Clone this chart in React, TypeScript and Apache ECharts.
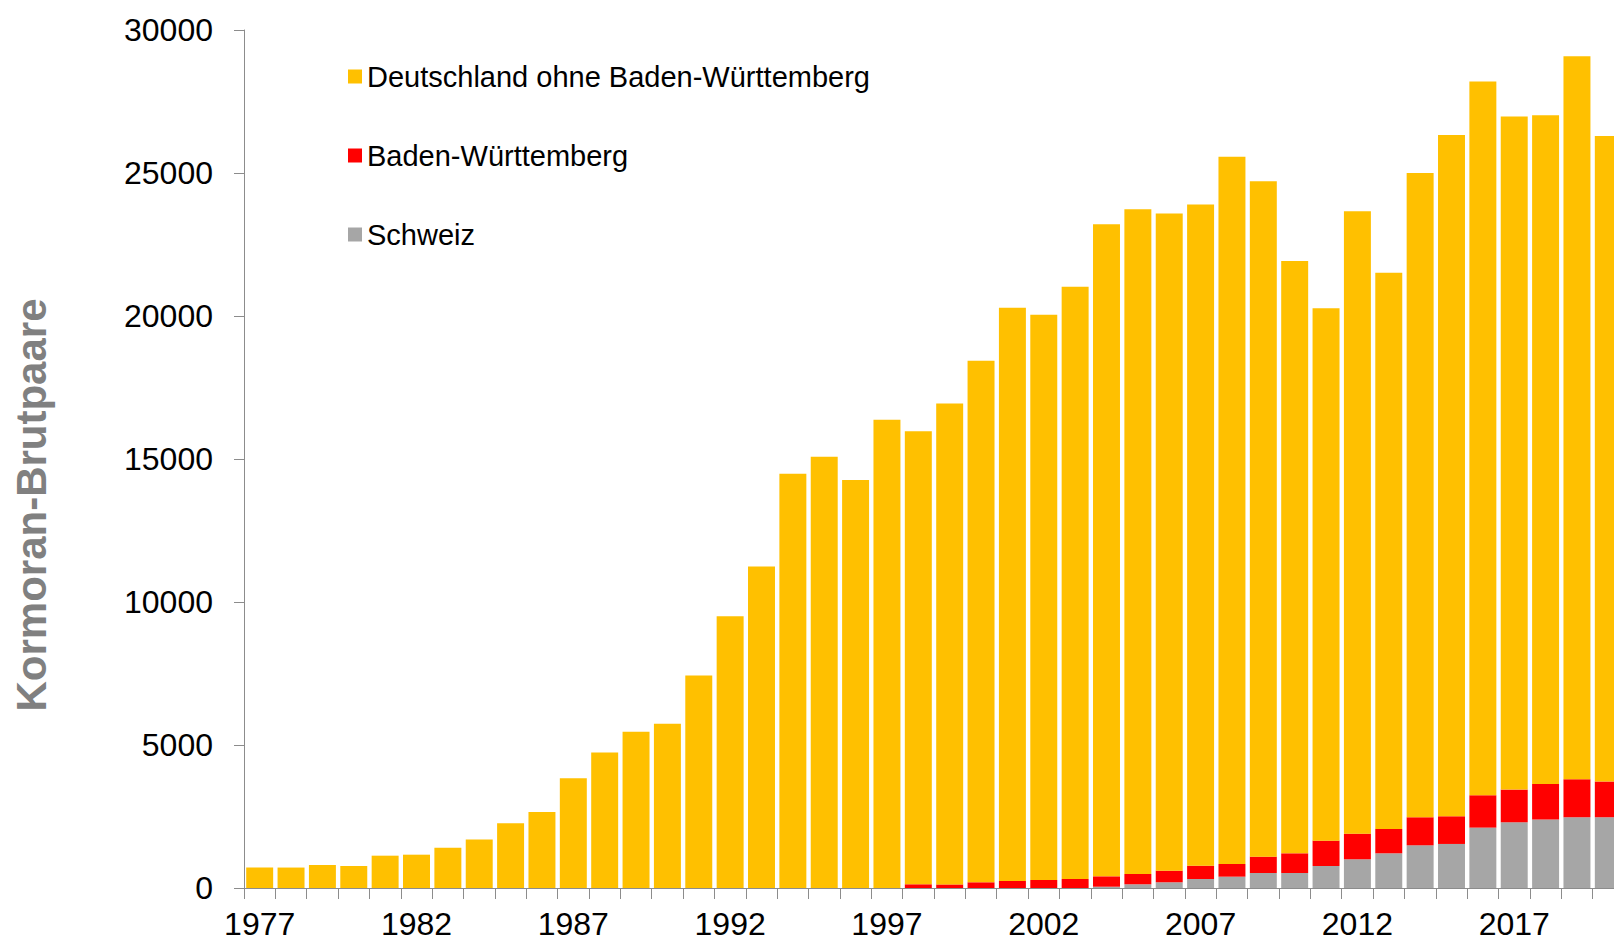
import React, { useEffect, useRef } from "react";
import * as echarts from "echarts";

const years = [
  "1977","1978","1979","1980","1981","1982","1983","1984","1985","1986",
  "1987","1988","1989","1990","1991","1992","1993","1994","1995","1996",
  "1997","1998","1999","2000","2001","2002","2003","2004","2005","2006",
  "2007","2008","2009","2010","2011","2012","2013","2014","2015","2016",
  "2017","2018","2019","2020",
];

const deutschlandOhneBW = [
  720, 715, 805, 770, 1130, 1165, 1410, 1700, 2260, 2660,
  3840, 4740, 5460, 5740, 7430, 9500, 11240, 14480, 15080, 14270,
  16370, 15840, 16815, 18235, 20045, 19765, 20710, 22800, 23240, 22975,
  23115, 24725, 23615, 20710, 18615, 21760, 19450, 22530, 23820, 24955,
  23535, 23380, 25275, 22575,
];

const badenWuerttemberg = [
  0, 0, 0, 0, 0, 0, 0, 0, 0, 0,
  0, 0, 0, 0, 0, 0, 0, 0, 0, 0,
  0, 130, 125, 200, 245, 280, 315, 363, 360, 406,
  465, 444, 571, 688, 886, 897, 852, 980, 968, 1131,
  1144, 1248, 1330, 1249,
];

const schweiz = [
  0, 0, 0, 0, 0, 0, 0, 0, 0, 0,
  0, 0, 0, 0, 0, 0, 0, 0, 0, 0,
  0, 0, 0, 0, 0, 0, 0, 45, 130, 200,
  315, 396, 525, 525, 770, 1004, 1213, 1493, 1540, 2112,
  2298, 2392, 2473, 2473,
];

const yTicks = { min: 0, max: 30000, interval: 5000 };

const NAME_DE = "Deutschland ohne Baden-Württemberg";
const NAME_BW = "Baden-Württemberg";
const NAME_CH = "Schweiz";
const Y_TITLE = "Kormoran-Brutpaare";

export default function App() {
  const ref = useRef<HTMLDivElement | null>(null);

  useEffect(() => {
    if (!ref.current) return;
    const chart = echarts.init(ref.current, null, { renderer: "svg" });
    const font = "'Liberation Sans', Arial, sans-serif";
    const axisGray = "#8c8c8c";
    chart.setOption({
      animation: false,
      backgroundColor: "#ffffff",
      textStyle: { fontFamily: font },
      legend: {
        orient: "vertical",
        left: 343,
        top: 57,
        itemWidth: 14,
        itemHeight: 14,
        itemGap: 50,
        icon: "rect",
        data: [NAME_DE, NAME_BW, NAME_CH],
        textStyle: { fontSize: 29, lineHeight: 29, color: "#000", fontFamily: font },
      },
      graphic: [
        {
          type: "text",
          x: 31,
          y: 505,
          rotation: Math.PI / 2,
          style: {
            text: Y_TITLE,
            fontSize: 42,
            fontWeight: "bold",
            fill: "#808080",
            fontFamily: font,
            align: "center",
            verticalAlign: "middle",
          },
        },
      ],
      grid: { left: 244, right: 0, top: 30, bottom: 54, containLabel: false },
      xAxis: {
        type: "category",
        data: years,
        boundaryGap: true,
        axisLine: { lineStyle: { color: axisGray, width: 1 } },
        axisTick: { show: true, interval: 0, length: 11, lineStyle: { color: axisGray } },
        axisLabel: { interval: 4, margin: 20, fontSize: 32, color: "#000", fontFamily: font },
      },
      yAxis: {
        type: "value",
        min: yTicks.min,
        max: yTicks.max,
        interval: yTicks.interval,
        axisLine: { show: true, lineStyle: { color: axisGray, width: 1 } },
        axisTick: { show: true, length: 10, lineStyle: { color: axisGray } },
        axisLabel: {
          margin: 31,
          fontSize: 32,
          color: "#000",
          fontFamily: font,
          formatter: (v: number) => String(v),
        },
        splitLine: { show: false },
      },
      series: [
        { name: NAME_CH, type: "bar", stack: "total", data: schweiz, barCategoryGap: "14%", itemStyle: { color: "#A6A6A6" } },
        { name: NAME_BW, type: "bar", stack: "total", data: badenWuerttemberg, barCategoryGap: "14%", itemStyle: { color: "#FF0000" } },
        { name: NAME_DE, type: "bar", stack: "total", data: deutschlandOhneBW, barCategoryGap: "14%", itemStyle: { color: "#FFC000" } },
      ],
    });
    return () => chart.dispose();
  }, []);

  return (
    <div style={{ position: "fixed", left: 0, top: 0, width: 1614, height: 942, overflow: "hidden", background: "#fff" }}>
      <div ref={ref} style={{ position: "absolute", left: 0, top: 0, width: 1624, height: 942 }} />
    </div>
  );
}
